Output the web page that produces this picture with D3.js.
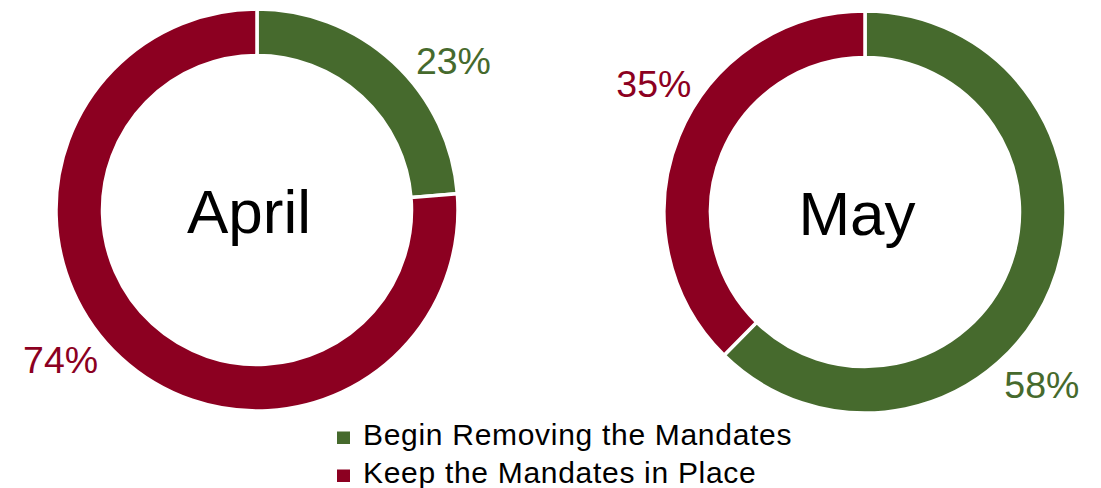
<!DOCTYPE html>
<html>
<head>
<meta charset="utf-8">
<script src="https://cdn.jsdelivr.net/npm/d3@7"></script>
<style>
  html, body { margin: 0; padding: 0; background: #fff; }
  svg { display: block; }
  text { font-family: "Liberation Sans", Arial, sans-serif; }
</style>
</head>
<body>
<svg id="chart" width="1101" height="488"></svg>
<script>
// ---- data ----
const months = ["April", "May"];
const seriesNames = ["Begin Removing the Mandates", "Keep the Mandates in Place"];
const beginRemoving = [23, 58];   // % per month
const keepInPlace   = [74, 35];   // % per month

// ---- layout / style ----
const W = 1101, H = 488;
const colors = ["#466a2d", "#8c0021"];
const centers = [{x: 257, y: 210}, {x: 865, y: 212}];
const outerR = 201, innerR = 154.5, labelR = 247;
const labelNudgeDeg = [[10, 10], [22, 9]]; // per month, per series
const titleShiftX = -8;

const svg = d3.select("#chart");
const color = d3.scaleOrdinal().domain(seriesNames).range(colors);

const pie = d3.pie().sort(null).value(d => d.value);
const arc = d3.arc().innerRadius(innerR).outerRadius(outerR);

months.forEach((m, i) => {
  const data = [
    {series: seriesNames[0], value: beginRemoving[i]},
    {series: seriesNames[1], value: keepInPlace[i]}
  ];
  const g = svg.append("g").attr("transform", `translate(${centers[i].x},${centers[i].y})`);
  const arcs = pie(data);
  g.selectAll("path").data(arcs).join("path")
    .attr("d", arc)
    .attr("fill", d => color(d.data.series))
    .attr("stroke", "#fff")
    .attr("stroke-width", 3.5)
    .attr("stroke-linejoin", "miter");

  const labelAngle = (d, j) => (d.startAngle + d.endAngle) / 2 + labelNudgeDeg[i][j] * Math.PI / 180;
  g.selectAll("text.lbl").data(arcs).join("text")
    .attr("class", "lbl")
    .attr("x", (d, j) => Math.sin(labelAngle(d, j)) * labelR)
    .attr("y", (d, j) => -Math.cos(labelAngle(d, j)) * labelR)
    .attr("dy", "0.36em")
    .attr("text-anchor", "middle")
    .attr("font-size", 37.5)
    .attr("fill", d => color(d.data.series))
    .text(d => d.data.value + "%");

  g.append("text")
    .attr("x", titleShiftX)
    .attr("text-anchor", "middle")
    .attr("dy", "0.37em")
    .attr("font-size", 62)
    .attr("fill", "#000")
    .text(m);
});

// legend
const legend = svg.append("g").attr("transform", "translate(337,445)");
const rows = legend.selectAll("g").data(seriesNames).join("g")
  .attr("transform", (d, i) => `translate(0,${i * 38})`);
rows.append("rect")
  .attr("x", 0).attr("y", -13.5).attr("width", 13).attr("height", 12.5)
  .attr("fill", d => color(d));
rows.append("text")
  .attr("x", 26)
  .attr("font-size", 30)
  .attr("letter-spacing", 0.7)
  .attr("fill", "#000")
  .text(d => d);
</script>
</body>
</html>
